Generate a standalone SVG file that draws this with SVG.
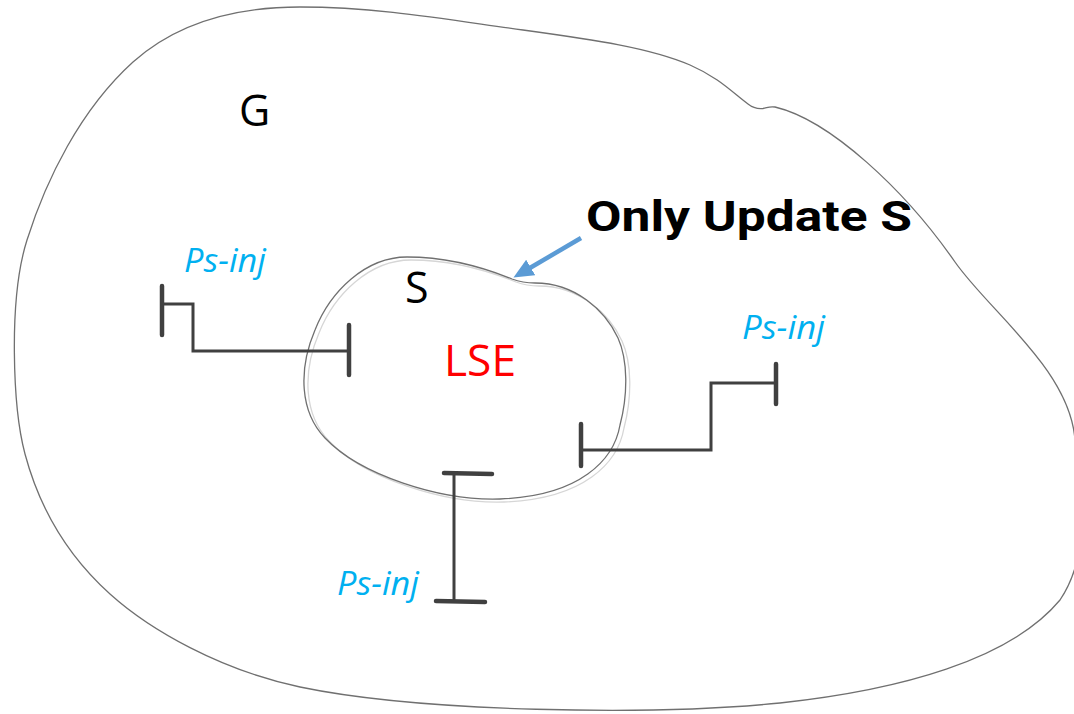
<svg xmlns="http://www.w3.org/2000/svg" width="1074" height="714" viewBox="0 0 1074 714">
  <style>
    .region { fill: none; stroke: #707070; stroke-width: 1.3; }
    .region-shadow { fill: none; stroke: #d6d6d6; stroke-width: 1.3; }
    .wire { fill: none; stroke: #404040; stroke-width: 3; stroke-linejoin: miter; }
    .bar { fill: none; stroke: #404040; stroke-width: 4.5; stroke-linecap: round; }
    .label { font-family: "Open Sans", "Noto Sans", sans-serif; font-size: 43px; fill: #000000; }
    .inj { font-family: "Open Sans", "Noto Sans", sans-serif; font-size: 33px; font-style: italic; fill: #00b0f0; }
    .note { font-family: Roboto, "Liberation Sans", Arial, sans-serif; font-size: 42px; font-weight: 700; fill: #000000; }
  </style>
  <defs>
    <marker id="arrowhead" markerUnits="userSpaceOnUse" markerWidth="24" markerHeight="20" refX="2" refY="9" orient="auto">
      <polygon points="0,0 20,9 0,18" fill="#5b9bd5"/>
    </marker>
  </defs>

  <rect width="1074" height="714" fill="#ffffff"/>

  <!-- outer region G -->
  <g id="region-g">
    <path class="region" d="M 300,7 C 380,7 450,20 523,30 C 596,40 650,48 690,65 C 720,78 735,95 748,104 C 753,108 758,109 763,108.5 C 767,108 769,106 775,107 C 830,120 905,190 955,262 C 990,312 1070,370 1075,440 C 1080,510 1090,555 1060,600 C 1010,660 900,690 780,703 C 650,716 420,712 300,687 C 220,670 150,630 110,594 C 70,558 40,510 25,454 C 13,409 8,300 27,240 C 46,180 80,110 133,62 C 180,20 240,7 300,7 Z"/>
    <text class="label" x="239" y="126">G</text>
  </g>

  <!-- inner region S -->
  <g id="region-s">
    <path class="region-shadow" transform="translate(4,3)" d="M 407,257 C 450,257 485,268 512,279 C 520,282 525,283 535,283 C 575,283 605,310 618,338 C 628,360 628,395 620,425 C 614,460 580,496 500,499 C 440,501 360,475 325,438 C 300,412 298,370 315,330 C 330,292 365,257 407,257 Z"/>
    <path class="region" d="M 407,257 C 450,257 485,268 512,279 C 520,282 525,283 535,283 C 575,283 605,310 618,338 C 628,360 628,395 620,425 C 614,460 580,496 500,499 C 440,501 360,475 325,438 C 300,412 298,370 315,330 C 330,292 365,257 407,257 Z"/>
    <text class="label" x="405" y="303">S</text>
    <text class="label" x="444" y="376" textLength="72" lengthAdjust="spacingAndGlyphs" style="fill:#ff0000">LSE</text>
  </g>

  <!-- injection labels -->
  <g id="inj-left"><text class="inj" x="184" y="272" textLength="82" lengthAdjust="spacingAndGlyphs">Ps-inj</text></g>
  <g id="inj-right"><text class="inj" x="742" y="339" textLength="83" lengthAdjust="spacingAndGlyphs">Ps-inj</text></g>
  <g id="inj-bottom"><text class="inj" x="337" y="595" textLength="82" lengthAdjust="spacingAndGlyphs">Ps-inj</text></g>

  <!-- callout text -->
  <g id="note"><text class="note" x="586" y="231" textLength="326" lengthAdjust="spacingAndGlyphs">Only Update S</text></g>

  <!-- connectors -->
  <g id="connectors">
    <g id="link-left">
      <polyline class="wire" points="162,304 193,304 193,351 348,351"/>
      <line class="bar" x1="162" y1="286" x2="162" y2="335"/>
      <line class="bar" x1="349" y1="325" x2="349" y2="375"/>
    </g>
    <g id="link-right">
      <polyline class="wire" points="581,450 711,450 711,383 776,383"/>
      <line class="bar" x1="581" y1="424" x2="581" y2="466"/>
      <line class="bar" x1="776" y1="364" x2="776" y2="404"/>
    </g>
    <g id="link-bottom">
      <line class="wire" x1="454" y1="473" x2="454" y2="601"/>
      <line class="bar" x1="444" y1="473" x2="492" y2="474"/>
      <line class="bar" x1="436" y1="601" x2="485" y2="602"/>
    </g>
    <line id="callout-arrow" x1="581" y1="238" x2="529" y2="268.5" stroke="#5b9bd5" stroke-width="4.5" marker-end="url(#arrowhead)"/>
  </g>
</svg>
